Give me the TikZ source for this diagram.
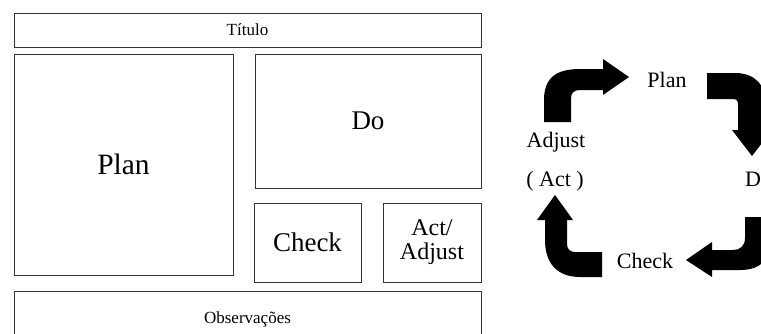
\documentclass[tikz,border=0pt]{standalone}
\usepackage{fontspec}
\setmainfont{Liberation Serif}
\begin{document}
\begin{tikzpicture}[x=1pt,y=-1pt,
  panel/.style={draw=black!80, line width=0.9pt, inner sep=0pt},
  cyclelabel/.style={font=\fontsize{22}{26}\selectfont, inner sep=0pt, anchor=base},
  bigarrow/.style={fill=black, draw=none}]
\useasboundingbox (0,0) rectangle (761,333);
\clip (0,0) rectangle (761,333);

% planning sheet
\node[panel, minimum width=467pt, minimum height=34pt, font=\fontsize{17}{20}\selectfont]
  (titulo) at (247.5,30) {Título};
\node[panel, minimum width=219pt, minimum height=221pt, font=\fontsize{29.5}{34}\selectfont]
  (plan) at (123.5,164.5) {Plan};
\node[panel, minimum width=226pt, minimum height=134pt, font=\fontsize{27}{32}\selectfont]
  (do) at (368,121) {Do};
\node[panel, minimum width=107pt, minimum height=79pt, font=\fontsize{27}{32}\selectfont]
  (check) at (307.5,242.5) {Check};
\node[panel, minimum width=98pt, minimum height=79pt, align=center,
  font=\fontsize{24}{24}\selectfont]
  (act) at (432,242.5) {Act/\\Adjust};
\node[panel, minimum width=467pt, minimum height=56pt, font=\fontsize{17}{20}\selectfont]
  (obs) at (247.5,319) {Observações};

% PDCA cycle labels
\node[cyclelabel] (cplan) at (667,87) {Plan};
\node[cyclelabel] (cadjust) at (556,147) {Adjust};
\node[cyclelabel] (cact) at (555,186) {( Act )};
\node[cyclelabel, anchor=base west] (cdo) at (745,186) {Do};
\node[cyclelabel] (ccheck) at (645,268) {Check};

% curved block arrows between the stages
\fill[bigarrow] (544,122) -- (544,100) .. controls (544,78) and (556,69) .. (580,69)
  -- (603,69) -- (603,59) -- (629,77) -- (603,95) -- (603,90) -- (580,90)
  .. controls (574,90) and (571,93) .. (571,98) -- (571,122) -- cycle;
\fill[bigarrow] (707,73) -- (735,73) .. controls (755,73) and (766,85) .. (766,105)
  -- (766,130) -- (772,130) -- (752,156) -- (732,130) -- (738,130) -- (738,105)
  .. controls (738,101) and (737,99) .. (733,99) -- (707,99) -- cycle;
\fill[bigarrow] (745,217) -- (771,217) -- (771,240) .. controls (771,260) and (760,270) .. (740,270)
  -- (712,270) -- (712,277) -- (686,260) -- (712,242) -- (712,250) -- (733,250)
  .. controls (740,250) and (745,246) .. (745,238) -- cycle;
\fill[bigarrow] (602,252) -- (575,252) .. controls (570,252) and (567,249) .. (567,244)
  -- (567,220) -- (573,220) -- (555,195) -- (537,220) -- (545,220) -- (545,240)
  .. controls (545,262) and (556,277) .. (580,277) -- (602,277) -- cycle;
\end{tikzpicture}
\end{document}
